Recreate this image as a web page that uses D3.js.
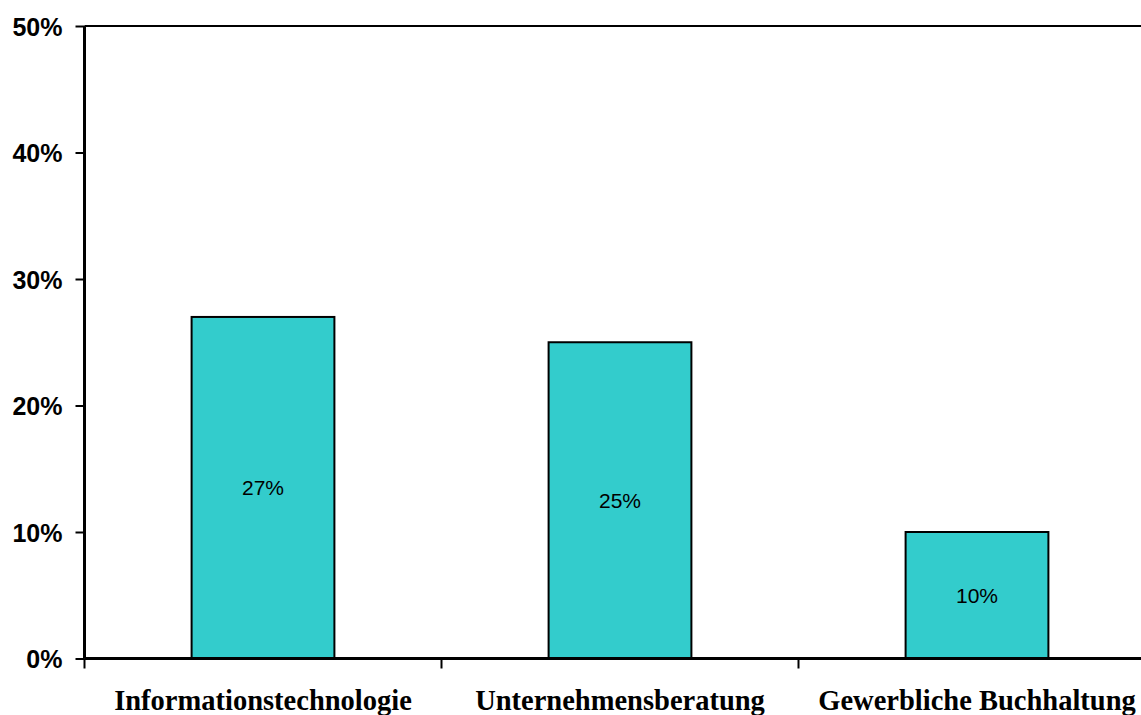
<!DOCTYPE html>
<html>
<head>
<meta charset="utf-8">
<script src="https://cdn.jsdelivr.net/npm/d3@7"></script>
<style>
  html, body { margin: 0; padding: 0; background: #ffffff; }
  svg { display: block; }
</style>
</head>
<body>
<svg id="chart" width="1141" height="715"></svg>
<script>
// Share of respondents by field
const categories = ["Informationstechnologie", "Unternehmensberatung", "Gewerbliche Buchhaltung"];
const values = [27, 25, 10];
const yTicks = [0, 10, 20, 30, 40, 50];

const W = 1141, H = 715;
const plot = { left: 84.5, top: 26, bottom: 658.5, step: 357 };

const svg = d3.select("#chart");

const x = d3.scaleBand()
  .domain(categories)
  .range([plot.left, plot.left + plot.step * categories.length])
  .paddingInner(0)
  .paddingOuter(0);

const y = d3.scaleLinear()
  .domain([0, 50])
  .range([plot.bottom, plot.top]);

const barW = x.bandwidth() * 0.4;

// Top frame line at 50%
svg.append("line")
  .attr("x1", plot.left).attr("x2", W + 20)
  .attr("y1", y(50)).attr("y2", y(50))
  .attr("stroke", "#000").attr("stroke-width", 2);

// Bars
svg.append("g").selectAll("rect")
  .data(values)
  .join("rect")
  .attr("x", (d, i) => x(categories[i]) + x.bandwidth() / 2 - barW / 2)
  .attr("y", d => y(d))
  .attr("width", barW)
  .attr("height", d => y(0) - y(d))
  .attr("fill", "#33CCCC")
  .attr("stroke", "#000")
  .attr("stroke-width", 2);

// Value labels inside bars
svg.append("g").selectAll("text")
  .data(values)
  .join("text")
  .attr("x", (d, i) => x(categories[i]) + x.bandwidth() / 2)
  .attr("y", d => (y(d) + y(0)) / 2)
  .attr("dy", "0.36em")
  .attr("text-anchor", "middle")
  .attr("font-family", "'Liberation Sans', Arial, sans-serif")
  .attr("font-size", 21)
  .attr("fill", "#000")
  .text(d => d + "%");

// Y axis
const yAxis = svg.append("g")
  .attr("transform", `translate(${plot.left},0)`)
  .call(d3.axisLeft(y).tickValues(yTicks).tickFormat(d => d + "%").tickSize(9).tickPadding(13));
yAxis.select(".domain").attr("stroke", "#000").attr("stroke-width", 3)
  .attr("d", `M0,${plot.top}V${plot.bottom}`);
yAxis.selectAll(".tick line").attr("stroke", "#000").attr("stroke-width", 2);
yAxis.selectAll(".tick text")
  .attr("font-family", "'Liberation Sans', Arial, sans-serif")
  .attr("font-weight", "bold")
  .attr("font-size", 25)
  .attr("dy", "0.36em")
  .attr("fill", "#000");

// X axis
const xAxis = svg.append("g")
  .attr("transform", `translate(0,${plot.bottom})`)
  .call(d3.axisBottom(x).tickSize(0));
xAxis.select(".domain").attr("stroke", "#000").attr("stroke-width", 3)
  .attr("d", `M${plot.left},0H${W + 20}`);
xAxis.selectAll(".tick text")
  .attr("y", 710 - plot.bottom)
  .attr("dy", 0)
  .attr("font-family", "'Liberation Serif', 'Times New Roman', serif")
  .attr("font-weight", "bold")
  .attr("font-size", 28.5)
  .attr("fill", "#000");

// Category separator ticks below the axis
const boundaries = d3.range(categories.length + 1).map(i => plot.left + plot.step * i);
svg.append("g").selectAll("line")
  .data(boundaries)
  .join("line")
  .attr("x1", d => d).attr("x2", d => d)
  .attr("y1", plot.bottom).attr("y2", plot.bottom + 10)
  .attr("stroke", "#000").attr("stroke-width", 2);
</script>
</body>
</html>
